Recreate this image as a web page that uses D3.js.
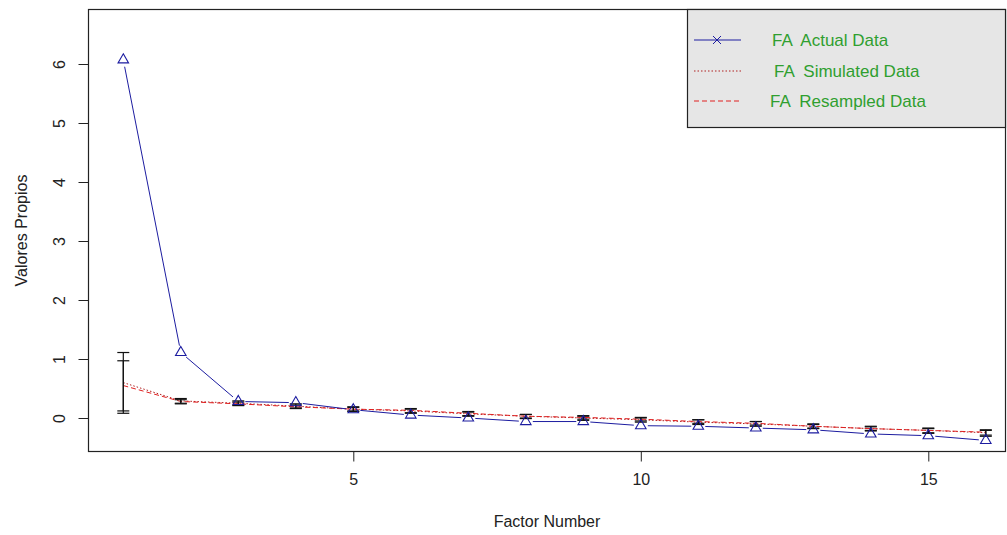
<!DOCTYPE html>
<html>
<head>
<meta charset="utf-8">
<script src="https://cdn.jsdelivr.net/npm/d3@7"></script>
<style>
  body { margin: 0; background: #ffffff; }
  text { font-family: "Liberation Sans", Arial, sans-serif; }
</style>
</head>
<body>
<div id="chart"></div>
<script>
var factors = [1, 2, 3, 4, 5, 6, 7, 8, 9, 10, 11, 12, 13, 14, 15, 16];
var actualData = [6.07, 1.11, 0.28, 0.26, 0.14, 0.05, 0.0, -0.06, -0.06, -0.13, -0.14, -0.17, -0.20, -0.27, -0.30, -0.38];
var simulatedData = [0.60, 0.29, 0.25, 0.20, 0.15, 0.12, 0.07, 0.03, 0.00, -0.03, -0.07, -0.10, -0.14, -0.18, -0.21, -0.25];
var resampledData = [0.55, 0.28, 0.24, 0.19, 0.15, 0.13, 0.08, 0.03, 0.01, -0.02, -0.06, -0.09, -0.14, -0.18, -0.21, -0.24];
var simLow = [0.08, 0.24, 0.21, 0.16, 0.11, 0.08, 0.03, -0.01, -0.04, -0.07, -0.11, -0.14, -0.18, -0.22, -0.26, -0.31];
var simHigh = [1.11, 0.33, 0.29, 0.24, 0.19, 0.15, 0.10, 0.06, 0.03, 0.00, -0.03, -0.06, -0.10, -0.14, -0.17, -0.20];
var resLow = [0.12, 0.25, 0.22, 0.17, 0.12, 0.09, 0.04, 0.00, -0.02, -0.05, -0.09, -0.12, -0.17, -0.21, -0.25, -0.29];
var resHigh = [0.97, 0.31, 0.27, 0.22, 0.18, 0.16, 0.11, 0.06, 0.04, 0.01, -0.03, -0.06, -0.11, -0.15, -0.18, -0.21];
var xTicks = [5, 10, 15];
var yTicks = [0, 1, 2, 3, 4, 5, 6];
var legendLabels = ["FA  Actual Data", "FA  Simulated Data", "FA  Resampled Data"];

var _width = 1007, _height = 535;
var _left = 88.5, _right = 1005.5, _top = 9.5, _bottom = 451.5;
var _fontSize = 16;
var blue = "#1c1ca0", darkRed = "#b02020", red = "#e02020", green = "#2f9f2f";

var x = d3.scaleLinear().domain([1, 16]).range([123.3, 985.8]);
var y = d3.scaleLinear().domain([0, 6]).range([418, 64]);

var svg = d3.select("#chart").append("svg")
    .attr("width", _width)
    .attr("height", _height);

svg.append("rect")
    .attr("width", _width)
    .attr("height", _height)
    .attr("fill", "#ffffff");

// axes
var xAxis = svg.append("g")
    .attr("transform", "translate(0," + _bottom + ")")
    .call(d3.axisBottom(x).tickValues(xTicks).tickSize(10).tickPadding(12).tickFormat(d3.format("d")));
xAxis.select(".domain").remove();

var yAxis = svg.append("g")
    .attr("transform", "translate(" + _left + ",0)")
    .call(d3.axisLeft(y).tickValues(yTicks).tickSize(10).tickFormat(d3.format("d")));
yAxis.select(".domain").remove();
yAxis.selectAll(".tick text")
    .attr("x", 0)
    .attr("dy", 0)
    .attr("text-anchor", "middle")
    .attr("transform", "translate(-24,0) rotate(-90)");

svg.selectAll(".tick line").attr("stroke", "#222");
svg.selectAll(".tick text")
    .attr("fill", "#222")
    .style("font-size", _fontSize + "px")
    .style("font-family", "'Liberation Sans', Arial, sans-serif");

svg.append("text")
    .attr("transform", "translate(27," + ((_top + _bottom) / 2) + ") rotate(-90)")
    .attr("text-anchor", "middle")
    .attr("fill", "#222")
    .style("font-size", _fontSize + "px")
    .text("Valores Propios");

svg.append("text")
    .attr("x", (_left + _right) / 2)
    .attr("y", 527)
    .attr("text-anchor", "middle")
    .attr("fill", "#222")
    .style("font-size", _fontSize + "px")
    .text("Factor Number");

// red lines
var line = d3.line()
    .x(function(d, i) { return x(factors[i]); })
    .y(function(d) { return y(d); });

svg.append("path")
    .datum(simulatedData)
    .attr("d", line)
    .attr("fill", "none")
    .attr("stroke", darkRed)
    .attr("stroke-width", 1)
    .attr("stroke-dasharray", "1.5,2");

svg.append("path")
    .datum(resampledData)
    .attr("d", line)
    .attr("fill", "none")
    .attr("stroke", red)
    .attr("stroke-width", 1)
    .attr("stroke-dasharray", "5,3");

// blue line with gaps round the points (type "b")
var gap = 7;
var segs = [];
for (var i = 0; i < actualData.length - 1; i++) {
    var x0 = x(factors[i]), y0 = y(actualData[i]);
    var x1 = x(factors[i + 1]), y1 = y(actualData[i + 1]);
    var len = Math.sqrt((x1 - x0) * (x1 - x0) + (y1 - y0) * (y1 - y0));
    var ux = (x1 - x0) / len, uy = (y1 - y0) / len;
    segs.push([x0 + ux * gap, y0 + uy * gap, x1 - ux * gap, y1 - uy * gap]);
}
svg.append("g").selectAll("line")
    .data(segs)
    .enter().append("line")
    .attr("x1", function(d) { return d[0]; })
    .attr("y1", function(d) { return d[1]; })
    .attr("x2", function(d) { return d[2]; })
    .attr("y2", function(d) { return d[3]; })
    .attr("stroke", blue)
    .attr("stroke-width", 1);

// error bars
function errorBars(low, high) {
    var g = svg.append("g").attr("stroke", "#111").attr("stroke-width", 1.2);
    factors.forEach(function(f, i) {
        var cx = x(f);
        g.append("line").attr("x1", cx).attr("x2", cx).attr("y1", y(low[i])).attr("y2", y(high[i]));
        g.append("line").attr("x1", cx - 6).attr("x2", cx + 6).attr("y1", y(low[i])).attr("y2", y(low[i]));
        g.append("line").attr("x1", cx - 6).attr("x2", cx + 6).attr("y1", y(high[i])).attr("y2", y(high[i]));
    });
}
errorBars(simLow, simHigh);
errorBars(resLow, resHigh);

// triangles
var tri = d3.symbol().type(d3.symbolTriangle).size(48);
svg.append("g").selectAll("path")
    .data(actualData)
    .enter().append("path")
    .attr("d", tri)
    .attr("transform", function(d, i) { return "translate(" + x(factors[i]) + "," + y(d) + ")"; })
    .attr("fill", "none")
    .attr("stroke", blue)
    .attr("stroke-width", 1.1);

// plot box
svg.append("rect")
    .attr("x", _left)
    .attr("y", _top)
    .attr("width", _right - _left)
    .attr("height", _bottom - _top)
    .attr("fill", "none")
    .attr("stroke", "#222")
    .attr("stroke-width", 1.2);

// legend
var legend = svg.append("g");
legend.append("rect")
    .attr("x", 687.5)
    .attr("y", _top)
    .attr("width", _right - 687.5)
    .attr("height", 118)
    .attr("fill", "#e6e6e6")
    .attr("stroke", "#222")
    .attr("stroke-width", 1.2);

var legendY = [40, 71, 101];
var legendX = [772, 774, 770];
var legendStyles = [
    {color: blue, dash: null},
    {color: darkRed, dash: "1.5,2"},
    {color: red, dash: "5,3"}
];
legendLabels.forEach(function(label, i) {
    legend.append("line")
        .attr("x1", 694).attr("x2", 741)
        .attr("y1", legendY[i]).attr("y2", legendY[i])
        .attr("stroke", legendStyles[i].color)
        .attr("stroke-width", 1)
        .attr("stroke-dasharray", legendStyles[i].dash);
    legend.append("text")
        .attr("x", legendX[i])
        .attr("y", legendY[i] + 6)
        .attr("fill", green)
        .style("font-size", "17px")
        .style("white-space", "pre")
        .text(label);
});
legend.append("path")
    .attr("d", "M713,36L721,44M713,44L721,36")
    .attr("stroke", blue)
    .attr("stroke-width", 1);
</script>
</body>
</html>
